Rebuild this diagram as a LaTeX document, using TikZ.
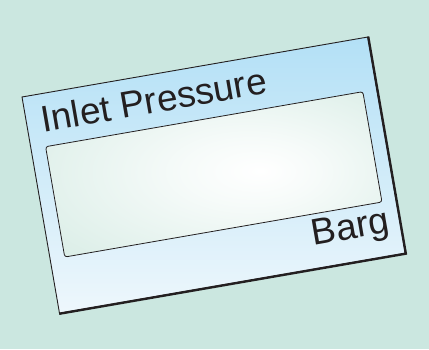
\documentclass[tikz,border=0pt]{standalone}
\usepackage{fontspec}
\setmainfont{Liberation Sans}
\usetikzlibrary{positioning,calc}
\definecolor{bgc}{HTML}{CBE7E0}
\definecolor{cardtop}{HTML}{B3E0F6}
\definecolor{cardbot}{HTML}{EEF7FC}
\definecolor{lcdc}{HTML}{D3EAE2}
\definecolor{inkc}{HTML}{231F20}
\pgfdeclareradialshading{lcdglow}{\pgfpoint{7bp}{1bp}}{color(0bp)=(white); color(10bp)=(white!80!lcdc); color(42bp)=(lcdc); color(50bp)=(lcdc)}
\tikzset{
  card/.style={draw=inkc,line width=0.9pt,minimum width=351pt,minimum height=219.5pt,inner sep=0pt,top color=cardtop,bottom color=cardbot},
  lcd/.style={draw=inkc,line width=0.8pt,rounded corners=2.5pt,minimum width=322pt,minimum height=112pt,inner sep=0pt,shading=lcdglow},
  lbl/.style={font=\fontsize{37}{42}\selectfont,text=inkc,inner sep=0pt},
  rim/.style={draw=inkc,line width=2.4pt,line join=miter},
}

\begin{document}
\begin{tikzpicture}[x=1pt,y=1pt]
  \useasboundingbox[fill=bgc] (0,0) rectangle (429,349);
  % the tilted display card
  \begin{scope}[shift={(22,252)},rotate=9.84,transform shape]
    \node[card] (card) at (175.5,-109.75) {};
    \draw[rim] (card.north east) -- (card.south east) -- (card.south west);
    \node[lcd] (lcd) at (175.75,-109) {};
    \node[lbl,anchor=base west] (title) at (15,-38.5) {Inlet Pressure};
    \node[lbl,anchor=base east] (unit) at (340.5,-196) {Barg};
  \end{scope}
\end{tikzpicture}
\end{document}
